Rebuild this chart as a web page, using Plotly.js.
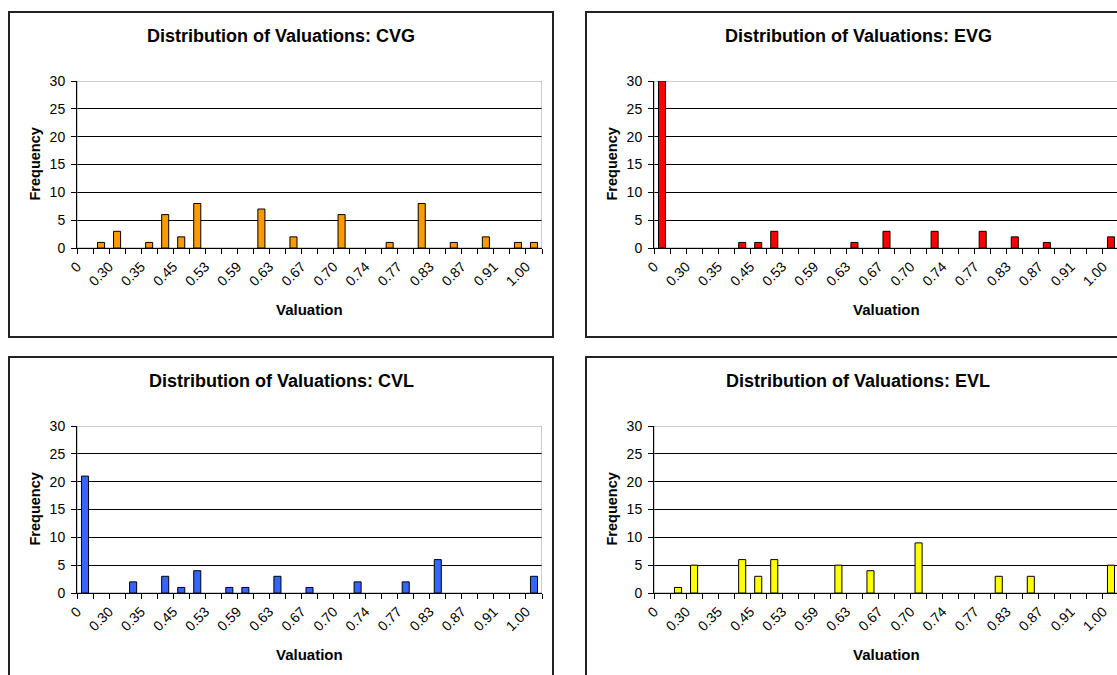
<!DOCTYPE html>
<html>
<head>
<meta charset="utf-8">
<script src="https://cdn.plot.ly/plotly-3.0.1.min.js"></script>
<style>
  html, body { margin: 0; padding: 0; overflow: hidden; background: #fff; }
  #chart { width: 1140px; height: 690px; }
</style>
</head>
<body>
<div id="chart"></div>
<script>
// ---------- DATA ----------
const binIndex = [0,1,2,3,4,5,6,7,8,9,10,11,12,13,14,15,16,17,18,19,20,21,22,23,24,25,26,27,28];
const labelBins = [0,2,4,6,8,10,12,14,16,18,20,22,24,26,28];
const tickLabels = ["0","0.30","0.35","0.45","0.53","0.59","0.63","0.67","0.70","0.74","0.77","0.83","0.87","0.91","1.00"];

const cvgFreq = [0,1,3,0,1,6,2,8,0,0,0,7,0,2,0,0,6,0,0,1,0,8,0,1,0,2,0,1,1];
const evgFreq = [30,0,0,0,0,1,1,3,0,0,0,0,1,0,3,0,0,3,0,0,3,0,2,0,1,0,0,0,2];
const cvlFreq = [21,0,0,2,0,3,1,4,0,1,1,0,3,0,1,0,0,2,0,0,2,0,6,0,0,0,0,0,3];
const evlFreq = [0,1,5,0,0,6,3,6,0,0,0,5,0,4,0,0,9,0,0,0,0,3,0,3,0,0,0,0,5];

const panelTitles = ["Distribution of Valuations: CVG","Distribution of Valuations: EVG",
                     "Distribution of Valuations: CVL","Distribution of Valuations: EVL"];
const seriesList = [cvgFreq, evgFreq, cvlFreq, evlFreq];
const barColors = ["#FF9900","#FF0000","#3366FF","#FFFF00"];

// ---------- LAYOUT (pixel geometry) ----------
const W = 1140, H = 690;
const fx = x => x / W;
const fy = y => 1 - y / H;
const FONT = "Liberation Sans, Arial, sans-serif";

const panels = [
  {bx0:9,   by0:12,  px0:77,  px1:542,  py0:81,  py1:248},
  {bx0:586, by0:12,  px0:654, px1:1119, py0:81,  py1:248},
  {bx0:9,   by0:357, px0:77,  px1:542,  py0:426, py1:593},
  {bx0:586, by0:357, px0:654, px1:1119, py0:426, py1:593}
];
const PW = 544, PH = 325;

const traces = [];
const layout = {
  width: W, height: H,
  margin: {l:0, r:0, t:0, b:0},
  paper_bgcolor: "#fff",
  plot_bgcolor: "#fff",
  showlegend: false,
  font: {family: FONT, color: "#000"},
  shapes: [],
  annotations: []
};

panels.forEach((p, i) => {
  const n = i === 0 ? "" : String(i + 1);
  const xa = "x" + n, ya = "y" + n;
  const vals = seriesList[i];
  traces.push({
    type: "bar",
    x: binIndex,
    y: vals,
    xaxis: xa, yaxis: ya,
    width: 0.44,
    marker: {color: barColors[i],
             line: {color: "#000", width: vals.map(v => v > 0 ? 1 : 0)}},
    hoverinfo: "skip"
  });
  layout["xaxis" + n] = {
    domain: [fx(p.px0), fx(p.px1)],
    anchor: ya,
    range: [-0.5, 28.5],
    tickmode: "array",
    tickvals: labelBins,
    ticktext: tickLabels,
    tickangle: -45,
    ticks: "",
    ticklabelshift: -8,
    ticklabelstandoff: 4,
    showline: true, linecolor: "#000", linewidth: 1,
    showgrid: false, zeroline: false,
    tickfont: {family: FONT, size: 14, color: "#000"},
    minor: {ticks: "outside", ticklen: 5, tickcolor: "#000", tickwidth: 1,
            tickmode: "linear", tick0: -0.5, dtick: 1, showgrid: false},
    fixedrange: true
  };
  layout["yaxis" + n] = {
    domain: [fy(p.py1), fy(p.py0)],
    anchor: xa,
    range: [0, 30],
    tickmode: "linear", tick0: 0, dtick: 5,
    ticks: "outside", ticklen: 5, tickcolor: "#000", tickwidth: 1,
    ticklabelstandoff: 3,
    showline: true, linecolor: "#000", linewidth: 1,
    showgrid: true, gridcolor: "#000", gridwidth: 1,
    zeroline: false,
    tickfont: {family: FONT, size: 14, color: "#000"},
    fixedrange: true
  };
  // grey plot-area frame (top/right edges visible)
  layout.shapes.push({
    type: "rect", xref: xa, yref: ya, x0: -0.5, x1: 28.5, y0: 0, y1: 30,
    line: {color: "#999", width: 1}, layer: "between"
  });
  // chart border
  layout.shapes.push({
    type: "rect", xref: "paper", yref: "paper",
    x0: fx(p.bx0), x1: fx(p.bx0 + PW), y0: fy(p.by0 + PH), y1: fy(p.by0),
    line: {color: "#222", width: 2}, layer: "above"
  });
  // title
  layout.annotations.push({
    xref: "paper", yref: "paper",
    x: fx(p.bx0 + PW / 2), y: fy(p.by0 + 24),
    xanchor: "center", yanchor: "middle", showarrow: false,
    text: "<b>" + panelTitles[i] + "</b>",
    font: {family: FONT, size: 18, color: "#000"}
  });
  // y-axis title
  layout.annotations.push({
    xref: "paper", yref: "paper",
    x: fx(p.px0 - 43), y: fy((p.py0 + p.py1) / 2),
    xanchor: "center", yanchor: "middle", showarrow: false, textangle: -90,
    text: "<b>Frequency</b>",
    font: {family: FONT, size: 14.5, color: "#000"}
  });
  // x-axis title
  layout.annotations.push({
    xref: "paper", yref: "paper",
    x: fx((p.px0 + p.px1) / 2), y: fy(p.py1 + 61),
    xanchor: "center", yanchor: "middle", showarrow: false,
    text: "<b>Valuation</b>",
    font: {family: FONT, size: 15, color: "#000"}
  });
});

Plotly.newPlot("chart", traces, layout, {displayModeBar: false, staticPlot: true});
</script>
</body>
</html>
